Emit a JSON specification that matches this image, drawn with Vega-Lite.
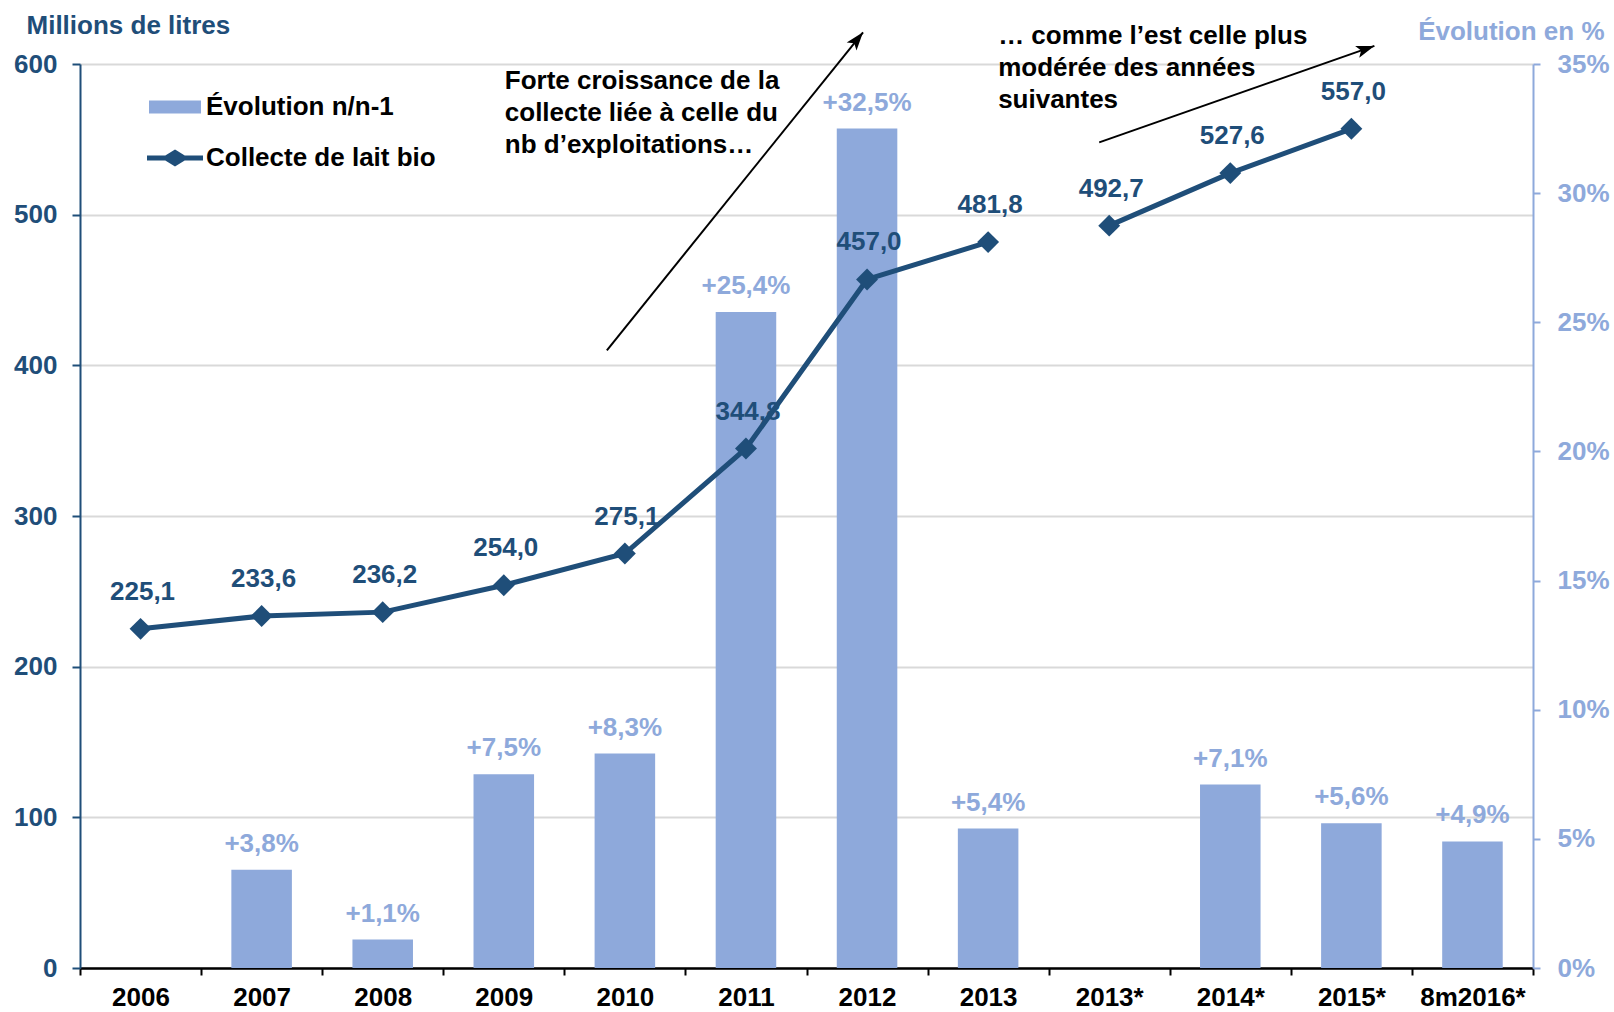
{
  "$schema": "https://vega.github.io/schema/vega-lite/v6.json",
  "width": 1453,
  "height": 904,
  "autosize": "none",
  "padding": {"left": 80, "top": 64, "right": 81, "bottom": 44},
  "background": "white",
  "config": {
    "font": "Liberation Sans",
    "view": {"stroke": null},
    "locale": {"number": {"decimal": ",", "thousands": "\u00a0", "grouping": [3], "currency": ["", "\u00a0€"]}},
    "axisX": {
      "domainColor": "#000000", "domainWidth": 2.5, "tickColor": "#000000", "tickSize": 7, "tickWidth": 2,
      "tickBand": "extent", "labelColor": "#000000", "labelFontSize": 26, "labelFontWeight": "bold",
      "labelPadding": 9, "labelAngle": 0, "grid": false, "labelFont": "Liberation Sans"
    },
    "text": {"font": "Liberation Sans", "fontSize": 26, "fontWeight": "bold"}
  },
  "datasets": {
    "main": [
      {"cat": "2006", "collecte": 225.1, "evol": null, "seg": "A"},
      {"cat": "2007", "collecte": 233.6, "evol": 0.038, "seg": "A"},
      {"cat": "2008", "collecte": 236.2, "evol": 0.011, "seg": "A"},
      {"cat": "2009", "collecte": 254.0, "evol": 0.075, "seg": "A"},
      {"cat": "2010", "collecte": 275.1, "evol": 0.083, "seg": "A"},
      {"cat": "2011", "collecte": 344.8, "evol": 0.254, "seg": "A"},
      {"cat": "2012", "collecte": 457.0, "evol": 0.325, "seg": "A"},
      {"cat": "2013", "collecte": 481.8, "evol": 0.054, "seg": "A"},
      {"cat": "2013*", "collecte": 492.7, "evol": null, "seg": "B"},
      {"cat": "2014*", "collecte": 527.6, "evol": 0.071, "seg": "B"},
      {"cat": "2015*", "collecte": 557.0, "evol": 0.056, "seg": "B"},
      {"cat": "8m2016*", "collecte": null, "evol": 0.049, "seg": "B"}
    ],
    "note1": [{"c": "2009", "v": 588.4, "t": "Forte croissance de la\ncollecte liée à celle du\nnb d’exploitations…"}],
    "note2": [{"c": "2013", "v": 618.6, "t": "… comme l’est celle plus\nmodérée des années\nsuivantes"}],
    "arrow1": [{"c1": "2010", "v1": 410, "c2": "2012", "v2": 621}],
    "arrow2": [{"c1": "2013*", "v1": 548, "c2": "2015*", "v2": 612}]
  },
  "resolve": {"scale": {"y": "independent"}},
  "layer": [
    {
      "data": {"name": "main"},
      "transform": [{"filter": "datum.evol != null"}],
      "encoding": {
        "x": {"field": "cat", "type": "nominal", "sort": null,
          "scale": {"domain": ["2006", "2007", "2008", "2009", "2010", "2011", "2012", "2013", "2013*", "2014*", "2015*", "8m2016*"], "paddingInner": 0, "paddingOuter": 0},
          "axis": {"title": null}},
        "y": {"field": "evol", "type": "quantitative",
          "scale": {"domain": [0, 0.35], "nice": false},
          "axis": {
            "orient": "right", "title": "Évolution en %", "values": [0, 0.05, 0.1, 0.15, 0.2, 0.25, 0.3, 0.35],
            "format": ".0%", "grid": false, "domainColor": "#8EA9DB", "domainWidth": 2,
            "tickColor": "#8EA9DB", "tickSize": 7, "tickWidth": 2, "labelColor": "#8EA9DB",
            "labelFont": "Liberation Sans", "labelFontSize": 26, "labelFontWeight": "bold", "labelPadding": 17,
            "titleAngle": 0, "titleAlign": "right", "titleBaseline": "middle", "titleX": 71, "titleY": -33,
            "titleColor": "#8EA9DB", "titleFont": "Liberation Sans", "titleFontSize": 26, "titleFontWeight": "bold"
          }}
      },
      "layer": [
        {
          "mark": {"type": "bar", "width": {"band": 0.5}},
          "encoding": {
            "color": {"datum": "Évolution n/n-1",
              "scale": {"domain": ["Évolution n/n-1", "Collecte de lait bio"], "range": ["#8EA9DB", "#1F4E79"]},
              "legend": {
                "title": null, "orient": "none", "legendX": 82, "legendY": 30, "padding": 0,
                "rowPadding": 22, "symbolSize": 1600, "labelOffset": 18, "labelLimit": 0, "labelFont": "Liberation Sans",
                "labelFontSize": 26, "labelFontWeight": "bold", "labelColor": "#000000", "direction": "vertical",
                "encode": {"symbols": {"update": {
                  "shape": {"signal": "datum.value === 'Collecte de lait bio' ? 'M-1.4,0L1.4,0M0,-0.28L0.45,0L0,0.28L-0.45,0Z' : 'M-1.3,-0.325L1.3,-0.325L1.3,0.325L-1.3,0.325Z'"},
                  "fill": {"signal": "datum.value === 'Collecte de lait bio' ? '#1F4E79' : '#8EA9DB'"},
                  "stroke": {"signal": "datum.value === 'Collecte de lait bio' ? '#1F4E79' : 'transparent'"},
                  "strokeWidth": {"signal": "datum.value === 'Collecte de lait bio' ? 5 : 0"},
                  "opacity": {"value": 1},
                  "fillOpacity": {"value": 1}
                }}}
              }}
          }
        },
        {
          "mark": {"type": "text", "dy": -26, "color": "#8EA9DB", "baseline": "middle"},
          "encoding": {"text": {"field": "evol", "type": "quantitative", "format": "+.1%"}}
        }
      ]
    },
    {
      "layer": [
        {
          "data": {"name": "main"},
          "transform": [{"filter": "datum.collecte != null"}],
          "encoding": {
            "x": {"field": "cat", "type": "nominal", "sort": null,
              "scale": {"domain": ["2006", "2007", "2008", "2009", "2010", "2011", "2012", "2013", "2013*", "2014*", "2015*", "8m2016*"], "paddingInner": 0, "paddingOuter": 0},
              "axis": {"title": null}},
            "y": {"field": "collecte", "type": "quantitative",
              "scale": {"domain": [0, 600], "nice": false},
              "axis": {
                "orient": "left", "title": "Millions de litres", "values": [0, 100, 200, 300, 400, 500, 600],
                "format": "d", "grid": true, "gridColor": "#D9D9D9", "gridWidth": 2,
                "domainColor": "#1F4E79", "domainWidth": 2, "tickColor": "#1F4E79", "tickSize": 8, "tickWidth": 2,
                "labelColor": "#1F4E79", "labelFont": "Liberation Sans", "labelFontSize": 26, "labelFontWeight": "bold",
                "labelPadding": 15,
                "titleAngle": 0, "titleAlign": "left", "titleBaseline": "middle", "titleX": -54, "titleY": -39,
                "titleColor": "#1F4E79", "titleFont": "Liberation Sans", "titleFontSize": 26, "titleFontWeight": "bold"
              }}
          },
          "layer": [
            {"mark": {"type": "line", "color": "#1F4E79", "strokeWidth": 5}, "encoding": {"detail": {"field": "seg"}}},
            {"mark": {"type": "point", "shape": "diamond", "size": 480, "filled": true, "color": "#1F4E79", "opacity": 1}},
            {"mark": {"type": "text", "dy": -37, "dx": 2, "color": "#1F4E79", "baseline": "middle"},
              "encoding": {"text": {"field": "collecte", "type": "quantitative", "format": ".1f"}}}
          ]
        },
        {
          "data": {"name": "note1"},
          "mark": {"type": "text", "align": "left", "baseline": "middle", "lineBreak": "\n", "lineHeight": 32, "dx": 1, "color": "#000000"},
          "encoding": {"x": {"field": "c", "type": "nominal"}, "y": {"field": "v", "type": "quantitative"}, "text": {"field": "t"}}
        },
        {
          "data": {"name": "note2"},
          "mark": {"type": "text", "align": "left", "baseline": "middle", "lineBreak": "\n", "lineHeight": 32, "dx": 10, "color": "#000000"},
          "encoding": {"x": {"field": "c", "type": "nominal"}, "y": {"field": "v", "type": "quantitative"}, "text": {"field": "t"}}
        },
        {
          "data": {"name": "arrow1"},
          "mark": {"type": "rule", "color": "#000000", "strokeWidth": 2, "xOffset": -18, "x2Offset": -4},
          "encoding": {"x": {"field": "c1", "type": "nominal"}, "y": {"field": "v1", "type": "quantitative"}, "x2": {"field": "c2"}, "y2": {"field": "v2"}}
        },
        {
          "data": {"name": "arrow1"},
          "mark": {"type": "point", "shape": "M0,0L0.45,1.3L0,1L-0.45,1.3Z", "size": 784, "filled": true, "color": "#000000", "opacity": 1, "angle": 39, "xOffset": -4},
          "encoding": {"x": {"field": "c2", "type": "nominal"}, "y": {"field": "v2", "type": "quantitative"}}
        },
        {
          "data": {"name": "arrow2"},
          "mark": {"type": "rule", "color": "#000000", "strokeWidth": 2, "xOffset": -10, "x2Offset": 23},
          "encoding": {"x": {"field": "c1", "type": "nominal"}, "y": {"field": "v1", "type": "quantitative"}, "x2": {"field": "c2"}, "y2": {"field": "v2"}}
        },
        {
          "data": {"name": "arrow2"},
          "mark": {"type": "point", "shape": "M0,0L0.45,1.3L0,1L-0.45,1.3Z", "size": 784, "filled": true, "color": "#000000", "opacity": 1, "angle": 71, "xOffset": 23},
          "encoding": {"x": {"field": "c2", "type": "nominal"}, "y": {"field": "v2", "type": "quantitative"}}
        }
      ]
    }
  ]
}
